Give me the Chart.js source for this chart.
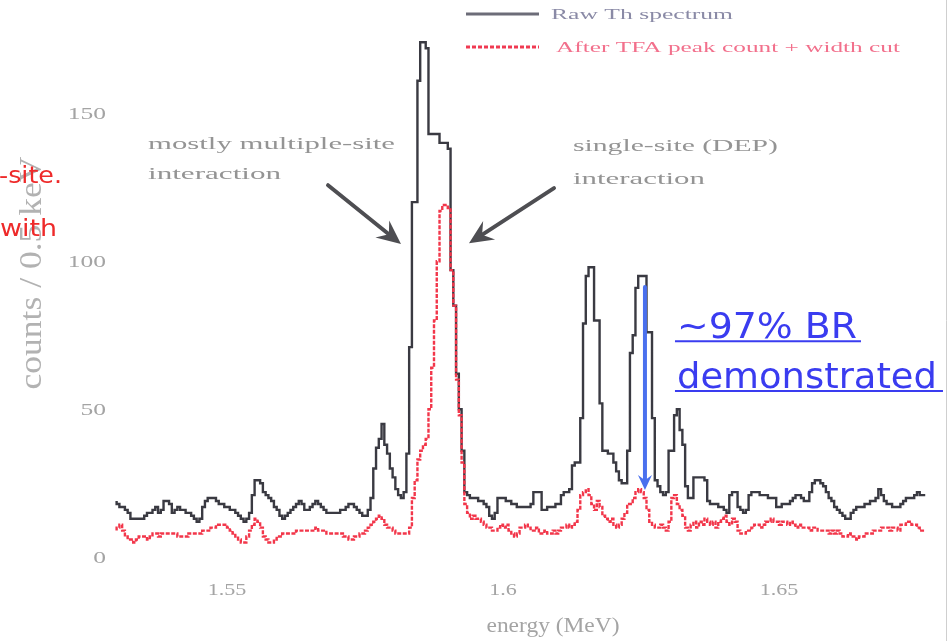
<!DOCTYPE html>
<html>
<head>
<meta charset="utf-8">
<script src="https://cdn.jsdelivr.net/npm/chart.js@4.4.1/dist/chart.umd.min.js"></script>
<style>
  html, body { margin: 0; padding: 0; background: #ffffff; }
  #wrap { width: 949px; height: 641px; position: relative; overflow: hidden; }
</style>
</head>
<body>
<div id="wrap"><canvas id="chart" width="949" height="641"></canvas></div>
<script>
// Histogram binning: 0.5 keV bins starting at 1.530 MeV
const binStart = 1.530;
const binWidth = 0.0005;

// Counts per bin, raw Th-228 spectrum
const rawTh = [
  19,18,17,17,16,15,13,13,13,13,
  13,14,15,15,16,17,15,16,19,19,
  18,15,16,17,16,16,15,15,14,13,
  12,13,17,19,20,20,20,19,18,18,
  17,17,16,16,15,14,13,12,13,15,
  21,26,26,25,22,21,20,19,17,16,
  14,13,14,15,16,17,18,19,18,16,
  16,17,18,19,18,17,16,15,15,15,
  15,15,16,16,17,18,18,17,16,15,
  14,14,16,20,30,37,40,45,38,35,
  30,27,23,21,20,22,35,71,120,120,
  161,174,174,172,143,143,143,143,140,140,
  140,138,97,85,62,50,36,22,21,20,
  20,20,19,19,18,17,14,13,15,20,
  20,20,19,19,18,18,17,17,17,17,
  17,18,22,22,22,16,16,17,17,17,
  18,18,21,22,22,23,31,32,32,47,
  79,95,98,98,80,80,52,36,36,35,
  35,32,29,26,25,25,36,69,75,91,
  95,95,95,76,76,47,26,24,22,21,
  22,36,36,48,50,43,38,24,20,20,
  27,27,27,27,26,19,18,18,18,17,
  17,16,15,21,22,22,17,16,15,16,
  21,22,22,22,21,21,21,20,20,20,
  17,17,18,18,18,19,20,21,21,20,
  19,19,22,25,26,26,25,24,22,20,
  19,17,16,15,14,13,13,15,16,17,
  17,17,18,18,19,19,20,23,21,19,
  18,18,17,17,17,18,19,20,20,20,
  21,22,21
];

// Counts per bin after the TFA peak-count + width cut
const afterCut = [
  9,10,11,9,7,6,6,5,6,7,
  7,7,6,7,8,8,7,8,8,8,
  8,8,8,7,7,7,7,8,8,8,
  8,8,9,9,9,10,10,11,11,11,
  11,10,9,8,7,6,5,5,7,9,
  11,13,12,10,7,6,5,5,6,7,
  7,8,8,8,8,8,9,9,9,9,
  9,9,9,10,9,9,9,8,8,8,
  8,8,8,7,7,6,6,7,7,8,
  8,9,10,11,12,13,14,13,11,10,
  10,9,8,8,8,8,8,10,20,26,
  33,36,38,40,50,64,80,100,117,119,
  119,118,97,85,60,48,32,18,15,13,
  14,13,13,12,11,10,10,9,9,10,
  11,10,11,9,8,7,8,10,10,11,
  10,9,9,10,8,8,9,8,8,9,
  8,9,10,10,11,10,11,12,16,21,
  22,23,21,18,16,19,17,14,13,12,
  13,11,10,11,13,15,18,18,20,22,
  23,22,20,16,12,11,10,10,11,10,
  9,12,20,21,18,16,14,10,9,11,
  12,10,12,11,13,12,11,12,10,12,
  13,14,12,11,13,12,9,8,8,9,
  9,10,11,11,10,11,12,12,13,12,
  12,11,12,12,11,12,11,10,11,10,
  10,10,9,10,10,9,9,9,9,8,
  9,8,9,8,7,7,8,7,7,6,
  7,7,8,8,8,9,9,9,10,10,
  10,9,10,10,9,11,11,12,12,11,
  11,10,9
];

const seriesLabels = ['Raw Th spectrum', 'After TFA peak count + width cut'];
const xTicks = [1.55, 1.6, 1.65];
const xTickLabels = ['1.55', '1.6', '1.65'];
const yTicks = [0, 50, 100, 150];
const yTickLabels = ['0', '50', '100', '150'];
const xTitle = 'energy (MeV)';
const yTitle = 'counts / 0.5 keV';

// Axis ranges
const xMin = 1.5288, xMax = 1.6799;
const yMin = -6, yMax = 184.9;

// Styles
const rawColor = '#3a3a42';
const cutColor = '#f2364a';
const axisTextColor = '#a4a4a4';
const noteColor = '#949494';
const serif = '"Liberation Serif", "DejaVu Serif", serif';
const handFont = '"DejaVu Sans", sans-serif';

// Text notes placed in data coordinates (energy, counts)
const notes = [
  { text: 'mostly multiple-site', e: 1.53569, c: 137.9, w: 247 },
  { text: 'interaction',          e: 1.53569, c: 127.8, w: 133 },
  { text: 'single-site (DEP)',    e: 1.61268, c: 137.2, w: 205 },
  { text: 'interaction',          e: 1.61268, c: 126.1, w: 132 }
];
const pointers = [
  { from: [1.56830, 125.7], to: [1.58152, 105.8] },
  { from: [1.60924, 124.7], to: [1.59384, 106.1] }
];
const brArrow = { e: 1.62572, top: 91.3, tip: 22.7 };
const brText = [
  { text: '~97% BR',      e: 1.63152, c: 74.0, w: 180, ul: 186 },
  { text: 'demonstrated', e: 1.63152, c: 57.2, w: 260, ul: 268 }
];

function toPoints(values) {
  const pts = values.map((v, i) => ({ x: binStart + i * binWidth, y: v }));
  // closing edge of the last bin
  pts.push({ x: binStart + values.length * binWidth, y: values[values.length - 1] });
  return pts;
}

// Draw text squeezed/stretched horizontally to a given width
function fitText(ctx, text, x, y, font, color, width, align, sx) {
  ctx.save();
  ctx.font = font;
  ctx.fillStyle = color;
  ctx.textAlign = 'left';
  ctx.textBaseline = 'alphabetic';
  const w = ctx.measureText(text).width;
  const s = width ? width / w : (sx || 1);
  let x0 = x;
  if (align === 'right') x0 = x - w * s;
  else if (align === 'center') x0 = x - w * s / 2;
  ctx.translate(x0, y);
  ctx.scale(s, 1);
  ctx.fillText(text, 0, 0);
  ctx.restore();
  return { x0: x0, w: w * s };
}

function drawArrow(ctx, x1, y1, x2, y2, color, lw, headLen, headHalf) {
  const a = Math.atan2(y2 - y1, x2 - x1);
  const ca = Math.cos(a), sa = Math.sin(a);
  ctx.save();
  ctx.strokeStyle = color;
  ctx.fillStyle = color;
  ctx.lineWidth = lw;
  ctx.lineCap = 'round';
  ctx.beginPath();
  ctx.moveTo(x1, y1);
  ctx.lineTo(x2 - headLen * 0.7 * ca, y2 - headLen * 0.7 * sa);
  ctx.stroke();
  ctx.beginPath();
  ctx.moveTo(x2, y2);
  ctx.lineTo(x2 - headLen * ca + headHalf * sa, y2 - headLen * sa - headHalf * ca);
  ctx.lineTo(x2 - headLen * 0.65 * ca, y2 - headLen * 0.65 * sa);
  ctx.lineTo(x2 - headLen * ca - headHalf * sa, y2 - headLen * sa + headHalf * ca);
  ctx.closePath();
  ctx.fill();
  ctx.restore();
}

const decorations = {
  id: 'decorations',
  afterDraw(chart) {
    const ctx = chart.ctx;
    const xs = chart.scales.x, ys = chart.scales.y;
    const px = e => xs.getPixelForValue(e);
    const py = c => ys.getPixelForValue(c);

    // tick labels
    xTicks.forEach((v, i) => {
      fitText(ctx, xTickLabels[i], px(v), chart.chartArea.bottom + 20, '17px ' + serif, axisTextColor, 0, 'center', 1.3);
    });
    yTicks.forEach((v, i) => {
      fitText(ctx, yTickLabels[i], chart.chartArea.left - 4, py(v) + 6, '17px ' + serif, axisTextColor, 0, 'right', 1.5);
    });

    // axis titles
    fitText(ctx, xTitle, (px(xMin) + px(xMax)) / 2 + 26, 632, '21px ' + serif, axisTextColor, 133, 'center');
    ctx.save();
    ctx.font = '28px ' + serif;
    ctx.fillStyle = '#b2b2b2';
    ctx.textAlign = 'center';
    ctx.textBaseline = 'alphabetic';
    const tw = ctx.measureText(yTitle).width;
    ctx.translate(41, 273);
    ctx.rotate(-Math.PI / 2);
    ctx.scale(233 / tw, 1.15);
    ctx.fillText(yTitle, 0, 0);
    ctx.restore();

    // annotation texts and arrows
    notes.forEach(n => fitText(ctx, n.text, px(n.e), py(n.c), '16px ' + serif, noteColor, n.w, 'left'));
    pointers.forEach(p => drawArrow(ctx, px(p.from[0]), py(p.from[1]), px(p.to[0]), py(p.to[1]), '#4e4e52', 4, 24, 11));

    drawArrow(ctx, px(brArrow.e), py(brArrow.top), px(brArrow.e), py(brArrow.tip), '#4a70ee', 4, 15, 7);
    brText.forEach(t => {
      const r = fitText(ctx, t.text, px(t.e), py(t.c), '36px ' + handFont, '#3a3cf0', t.w, 'left');
      ctx.save();
      ctx.strokeStyle = '#3a3cf0';
      ctx.lineWidth = 2;
      ctx.beginPath();
      ctx.moveTo(r.x0 - 2, py(t.c) + 3);
      ctx.lineTo(r.x0 - 2 + t.ul, py(t.c) + 3);
      ctx.stroke();
      ctx.restore();
    });

    // side text fragments in red
    fitText(ctx, '-site.', -1, 183, '23px ' + handFont, '#ee2a2a', 63, 'left');
    fitText(ctx, 'with', 0, 236, '23px ' + handFont, '#ee2a2a', 57, 'left');

    // legend
    const ds = chart.data.datasets;
    const rows = [
      { y: 14, tx: 551, tw: 182, base: 19, text: '#8a8aa6' },
      { y: 47, tx: 556, tw: 344, base: 52, text: '#f2708c' }
    ];
    rows.forEach((r, i) => {
      ctx.save();
      ctx.strokeStyle = i === 0 ? '#6c6c78' : '#f03a52';
      ctx.lineWidth = 3;
      ctx.setLineDash(i === 0 ? [] : [4, 2]);
      ctx.beginPath();
      ctx.moveTo(466, r.y);
      ctx.lineTo(539, r.y);
      ctx.stroke();
      ctx.restore();
      fitText(ctx, ds[i].label, r.tx, r.base, '14px ' + serif, r.text, r.tw, 'left');
    });

    // right edge rule
    ctx.save();
    ctx.strokeStyle = '#cfcfcf';
    ctx.lineWidth = 1;
    ctx.beginPath();
    ctx.moveTo(946.5, 0);
    ctx.lineTo(946.5, 641);
    ctx.stroke();
    ctx.restore();
  }
};

new Chart(document.getElementById('chart'), {
  type: 'line',
  data: {
    datasets: [
      {
        label: seriesLabels[0],
        data: toPoints(rawTh),
        borderColor: rawColor,
        borderWidth: 2.4,
        stepped: 'after',
        pointRadius: 0,
        fill: false,
        borderJoinStyle: 'miter',
        order: 1
      },
      {
        label: seriesLabels[1],
        data: toPoints(afterCut),
        borderColor: cutColor,
        borderWidth: 2.4,
        borderDash: [4, 1.5],
        stepped: 'after',
        pointRadius: 0,
        fill: false,
        borderJoinStyle: 'miter',
        order: 0
      }
    ]
  },
  options: {
    responsive: false,
    animation: false,
    layout: { padding: { top: 10, right: 5, left: 0, bottom: 0 } },
    plugins: { legend: { display: false }, tooltip: { enabled: false } },
    scales: {
      x: {
        type: 'linear', min: xMin, max: xMax,
        grid: { display: false, drawTicks: false },
        border: { display: false },
        ticks: { display: false },
        afterBuildTicks: s => { s.ticks = xTicks.map(v => ({ value: v })); },
        afterFit: s => { s.height = 66; }
      },
      y: {
        type: 'linear', min: yMin, max: yMax,
        grid: { display: false, drawTicks: false },
        border: { display: false },
        ticks: { display: false },
        afterBuildTicks: s => { s.ticks = yTicks.map(v => ({ value: v })); },
        afterFit: s => { s.width = 110; }
      }
    }
  },
  plugins: [decorations]
});
</script>
</body>
</html>
